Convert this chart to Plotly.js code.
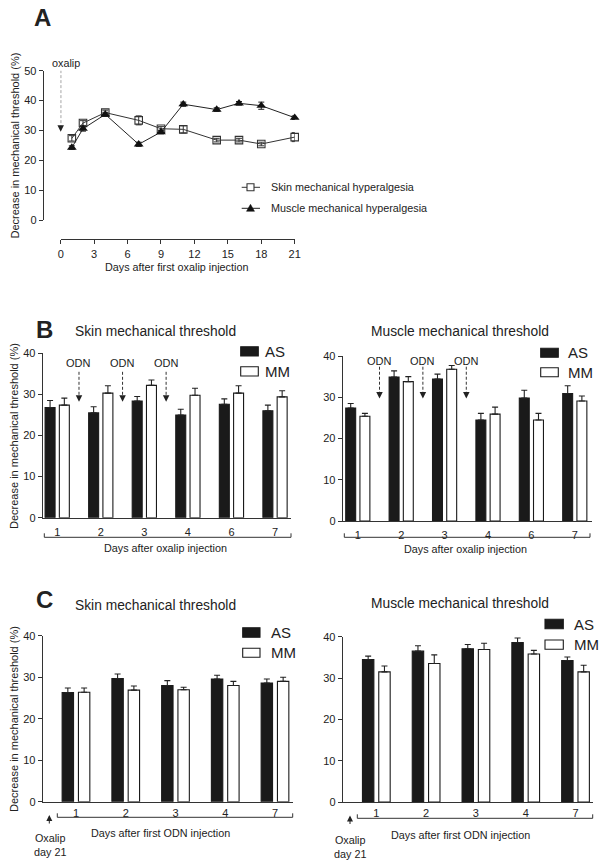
<!DOCTYPE html>
<html>
<head>
<meta charset="utf-8">
<script src="https://cdn.plot.ly/plotly-3.0.1.min.js"></script>
<style>html,body{margin:0;padding:0;background:#fff;}#chart{width:602px;height:868px;}</style>
</head>
<body>
<div id="chart"></div>
<script>
// ---------- DATA ----------
// Panel A: time course
const daysA = [1, 2, 4, 7, 9, 11, 14, 16, 18, 21];
const skinA = [27.4, 32.5, 36.0, 33.4, 30.6, 30.4, 26.8, 26.8, 25.5, 27.8];
const skinAErr = [0.9, 0.8, 0.8, 1.5, 0.7, 1.2, 0.6, 0.6, 0.6, 1.5];
const muscleA = [24.3, 30.6, 35.4, 25.4, 29.5, 38.8, 37.0, 39.1, 38.3, 34.3];
const muscleAErr = [0.6, 0.8, 0.7, 0.7, 0.6, 0.7, 0.6, 0.6, 1.2, 0.6];

// Panel B: days after oxalip injection
const daysB = ['1', '2', '3', '4', '6', '7'];
const skinB_AS = [26.8, 25.5, 28.4, 25.0, 27.6, 26.0];
const skinB_ASErr = [1.7, 1.5, 1.1, 1.4, 1.3, 1.4];
const skinB_MM = [27.4, 30.3, 32.2, 29.8, 30.3, 29.4];
const skinB_MMErr = [1.7, 1.8, 1.3, 1.7, 1.8, 1.5];
const muscleB_AS = [27.4, 34.9, 34.4, 24.5, 29.8, 30.9];
const muscleB_ASErr = [1.1, 1.5, 1.2, 1.6, 1.9, 1.9];
const muscleB_MM = [25.4, 33.8, 36.8, 25.9, 24.5, 29.1];
const muscleB_MMErr = [0.7, 1.2, 0.9, 1.7, 1.6, 1.2];

// Panel C: days after first ODN injection
const daysC = ['1', '2', '3', '4', '7'];
const skinC_AS = [26.3, 29.7, 28.0, 29.6, 28.6];
const skinC_ASErr = [1.1, 1.1, 1.2, 0.9, 1.0];
const skinC_MM = [26.4, 26.9, 27.0, 28.0, 29.0];
const skinC_MMErr = [1.0, 1.0, 0.6, 1.0, 1.0];
const muscleC_AS = [34.5, 36.5, 37.1, 38.6, 34.2];
const muscleC_ASErr = [0.8, 1.3, 1.0, 1.1, 0.9];
const muscleC_MM = [31.5, 33.5, 36.9, 35.8, 31.5];
const muscleC_MMErr = [1.4, 2.1, 1.5, 0.9, 1.6];

const odnPositions = [0.5, 1.5, 2.5]; // between day groups

// ---------- LAYOUT HELPERS ----------
const W = 602, H = 868;
const px = x => x / W;
const py = y => 1 - y / H;
const FONT = 'Liberation Sans, Arial, Helvetica, sans-serif';
const TXT = '#222';
const AX = '#333';

function barTrace(xs, ys, errs, fill, xa, ya) {
  return {
    type: 'bar', x: xs, y: ys, xaxis: xa, yaxis: ya, showlegend: false,
    marker: { color: fill, line: { color: '#1a1a1a', width: 1.1 } },
    error_y: { type: 'data', symmetric: false, array: errs, arrayminus: errs.map(() => 0),
               color: '#222', thickness: 1.1, width: 3 },
    hoverinfo: 'skip'
  };
}

const traces = [
  {
    type: 'scatter', mode: 'lines+markers', x: daysA, y: skinA, xaxis: 'x', yaxis: 'y',
    name: 'Skin mechanical hyperalgesia', showlegend: false, cliponaxis: false,
    line: { color: '#333', width: 1 },
    marker: { symbol: 'square-open', size: 7.5, color: '#333', line: { width: 1.1, color: '#333' } },
    error_y: { type: 'data', array: skinAErr, color: '#333', thickness: 1, width: 3 }
  },
  {
    type: 'scatter', mode: 'lines+markers', x: daysA, y: muscleA, xaxis: 'x', yaxis: 'y',
    name: 'Muscle mechanical hyperalgesia', showlegend: false, cliponaxis: false,
    line: { color: '#222', width: 1 },
    marker: { symbol: 'triangle-up', size: 8.5, color: '#111' },
    error_y: { type: 'data', array: muscleAErr, color: '#222', thickness: 1, width: 3 }
  },
  barTrace(daysB, skinB_AS, skinB_ASErr, '#1a1a1a', 'x2', 'y2'),
  barTrace(daysB, skinB_MM, skinB_MMErr, '#ffffff', 'x2', 'y2'),
  barTrace(daysB, muscleB_AS, muscleB_ASErr, '#1a1a1a', 'x3', 'y3'),
  barTrace(daysB, muscleB_MM, muscleB_MMErr, '#ffffff', 'x3', 'y3'),
  barTrace(daysC, skinC_AS, skinC_ASErr, '#1a1a1a', 'x4', 'y4'),
  barTrace(daysC, skinC_MM, skinC_MMErr, '#ffffff', 'x4', 'y4'),
  barTrace(daysC, muscleC_AS, muscleC_ASErr, '#1a1a1a', 'x5', 'y5'),
  barTrace(daysC, muscleC_MM, muscleC_MMErr, '#ffffff', 'x5', 'y5')
];

const tickFont = { family: FONT, size: 11, color: TXT };
const baseAx = {
  showline: true, linecolor: AX, linewidth: 1, showgrid: false, zeroline: false,
  tickfont: tickFont, fixedrange: true
};
function yAx(extra) {
  return Object.assign({}, baseAx, { range: [0, 40], dtick: 10, tick0: 0, ticks: 'outside',
    ticklen: 4, tickwidth: 1, tickcolor: AX }, extra);
}
function xCat(extra) {
  return Object.assign({}, baseAx, { type: 'category', ticks: 'outside', ticklen: 3,
    tickcolor: 'rgba(0,0,0,0)' }, extra);
}

const shapes = [];
const annotations = [];
function ann(text, x, y, size, extra) {
  annotations.push(Object.assign({ text: text, x: px(x), y: py(y), xref: 'paper', yref: 'paper',
    showarrow: false, xanchor: 'center', yanchor: 'middle',
    font: { family: FONT, size: size, color: TXT } }, extra || {}));
}
// dashed arrow in data coords
function dashedArrow(xa, ya, x, yTop, yTip) {
  shapes.push({ type: 'line', xref: xa, yref: ya, x0: x, x1: x, y0: yTop, y1: yTip + 0.8,
    line: { color: '#333', width: 1, dash: '3px,2px' } });
  annotations.push({ text: '', xref: xa, yref: ya, x: x, y: yTip, ax: 0, ay: -6,
    showarrow: true, arrowhead: 2, arrowsize: 1.3, arrowwidth: 1, arrowcolor: '#222' });
}
function bracket(x0, x1, y, h) {
  shapes.push({ type: 'path', xref: 'paper', yref: 'paper',
    path: `M${px(x0)},${py(y - h)} L${px(x0)},${py(y)} L${px(x1)},${py(y)} L${px(x1)},${py(y - h)}`,
    line: { color: AX, width: 1 } });
}
function legendBox(x0, x1, y0, y1, fill) {
  shapes.push({ type: 'rect', xref: 'paper', yref: 'paper', x0: px(x0), x1: px(x1), y0: py(y1), y1: py(y0),
    fillcolor: fill, line: { color: '#1a1a1a', width: 1.1 } });
}

// Panel letters
ann('<b>A</b>', 32, 18, 24, { xanchor: 'left' });
ann('<b>B</b>', 34, 329.5, 24, { xanchor: 'left' });
ann('<b>C</b>', 34, 599, 24, { xanchor: 'left' });

// Panel A texts
ann('Days after first oxalip injection', 176.7, 266.7, 10.8);
ann('Decrease in mechanical threshold (%)', 14, 145.5, 11, { textangle: -90 });
ann('oxalip', 66, 63, 10.8);
dashedArrow('x', 'y', 0, 50.2, 29.6);
// Panel A legend
shapes.push({ type: 'line', xref: 'paper', yref: 'paper', x0: px(241.7), x1: px(260), y0: py(187.3), y1: py(187.3), line: { color: '#333', width: 1 } });
shapes.push({ type: 'rect', xref: 'paper', yref: 'paper', x0: px(247), x1: px(254), y0: py(190.8), y1: py(183.8), fillcolor: '#fff', line: { color: '#333', width: 1.1 } });
shapes.push({ type: 'line', xref: 'paper', yref: 'paper', x0: px(241.7), x1: px(260), y0: py(208.3), y1: py(208.3), line: { color: '#222', width: 1 } });
shapes.push({ type: 'path', xref: 'paper', yref: 'paper', path: `M${px(246.5)},${py(211.3)} L${px(254.5)},${py(211.3)} L${px(250.5)},${py(204.3)} Z`, fillcolor: '#111', line: { color: '#111', width: 0.5 } });
ann('Skin mechanical hyperalgesia', 269, 187.3, 10.8, { xanchor: 'left' });
ann('Muscle mechanical hyperalgesia', 269, 208.3, 10.8, { xanchor: 'left' });

// Panel B texts
ann('Skin mechanical threshold', 155, 331.7, 13.8);
ann('Muscle mechanical threshold', 460, 331.7, 13.8);
ann('Decrease in mechanical threshold (%)', 14, 436, 11, { textangle: -90 });
ann('Days after oxalip injection', 165, 548.3, 10.8);
ann('Days after oxalip injection', 465, 549.3, 10.8);
bracket(44.3, 291, 537.3, 4);
bracket(344.3, 590, 537.3, 4);
odnPositions.forEach(p => {
  dashedArrow('x2', 'y2', p, 35.5, 28.2);
  annotations.push({ text: 'ODN', xref: 'x2', yref: 'y2', x: p, y: 37.6, showarrow: false,
    font: { family: FONT, size: 11, color: TXT } });
  dashedArrow('x3', 'y3', p, 37.4, 29.7);
  annotations.push({ text: 'ODN', xref: 'x3', yref: 'y3', x: p, y: 38.9, showarrow: false,
    font: { family: FONT, size: 11, color: TXT } });
});
legendBox(240.7, 258.3, 346.7, 356, '#1a1a1a');
legendBox(240.7, 258.3, 366.7, 376, '#ffffff');
ann('AS', 263, 351.3, 15, { xanchor: 'left' });
ann('MM', 263, 371.3, 15, { xanchor: 'left' });
legendBox(540.7, 558.3, 348.3, 357.3, '#1a1a1a');
legendBox(540.7, 558.3, 367.7, 376.7, '#ffffff');
ann('AS', 566, 352.8, 15, { xanchor: 'left' });
ann('MM', 566, 372.2, 15, { xanchor: 'left' });

// Panel C texts
ann('Skin mechanical threshold', 155, 605, 13.8);
ann('Muscle mechanical threshold', 460, 603.3, 13.8);
ann('Decrease in mechanical threshold (%)', 14, 719, 11, { textangle: -90 });
ann('Days after first ODN injection', 160, 832.7, 10.8);
ann('Days after first ODN injection', 460, 835, 10.8);
bracket(57.3, 292.7, 817.3, 4);
bracket(357.3, 592.7, 818.3, 4);
ann('Oxalip<br>day 21', 50, 845, 10.8);
ann('Oxalip<br>day 21', 350, 846.5, 10.8);
[[49.3, 815], [350, 815.5]].forEach(([x, y]) => {
  annotations.push({ text: '', xref: 'paper', yref: 'paper', x: px(x), y: py(y), ax: 0, ay: 10,
    showarrow: true, arrowhead: 2, arrowsize: 1.2, arrowwidth: 1, arrowcolor: '#222' });
});
legendBox(242.7, 260, 627.7, 637.3, '#1a1a1a');
legendBox(242.7, 260, 648.3, 657.3, '#ffffff');
ann('AS', 269, 632.5, 15, { xanchor: 'left' });
ann('MM', 269, 652.8, 15, { xanchor: 'left' });
legendBox(545, 563.3, 619.3, 628.7, '#1a1a1a');
legendBox(545, 563.3, 640, 649.3, '#ffffff');
ann('AS', 572, 624, 15, { xanchor: 'left' });
ann('MM', 572, 644.7, 15, { xanchor: 'left' });

const layout = {
  width: W, height: H, autosize: false,
  margin: { l: 0, r: 0, t: 0, b: 0 },
  paper_bgcolor: '#fff', plot_bgcolor: 'rgba(0,0,0,0)',
  font: { family: FONT, color: TXT },
  showlegend: false,
  barmode: 'group', bargap: 0.345, bargroupgap: 0.3,
  xaxis: Object.assign({}, baseAx, { domain: [px(60.7), px(294.7)], range: [0, 21], anchor: 'free',
    position: py(239.3), tick0: 0, dtick: 3, ticks: 'outside', ticklen: 4, tickcolor: AX }),
  yaxis: Object.assign({}, baseAx, { domain: [py(220.3), py(70.7)], range: [0, 50], anchor: 'free',
    position: px(42.7), tick0: 0, dtick: 10, ticks: 'outside', ticklen: 4, tickcolor: AX }),
  xaxis2: xCat({ domain: [px(42.7), px(291)], range: [-0.333, 5.367], anchor: 'y2', ticklen: 4 }),
  yaxis2: yAx({ domain: [py(517.7), py(353.3)], anchor: 'x2' }),
  xaxis3: xCat({ domain: [px(342.7), px(591.7)], range: [-0.348, 5.39], anchor: 'y3', ticklen: 4 }),
  yaxis3: yAx({ domain: [py(521), py(356)], anchor: 'x3' }),
  xaxis4: xCat({ domain: [px(42.7), px(292.7)], range: [-0.669, 4.356], anchor: 'y4', ticklen: 1 }),
  yaxis4: yAx({ domain: [py(801.7), py(635.8)], anchor: 'x4' }),
  xaxis5: xCat({ domain: [px(342.7), px(592.7)], range: [-0.675, 4.345], anchor: 'y5', ticklen: 1 }),
  yaxis5: yAx({ domain: [py(802), py(636.7)], anchor: 'x5' }),
  shapes: shapes,
  annotations: annotations
};

Plotly.newPlot('chart', traces, layout, { displayModeBar: false, staticPlot: true });
</script>
</body>
</html>
